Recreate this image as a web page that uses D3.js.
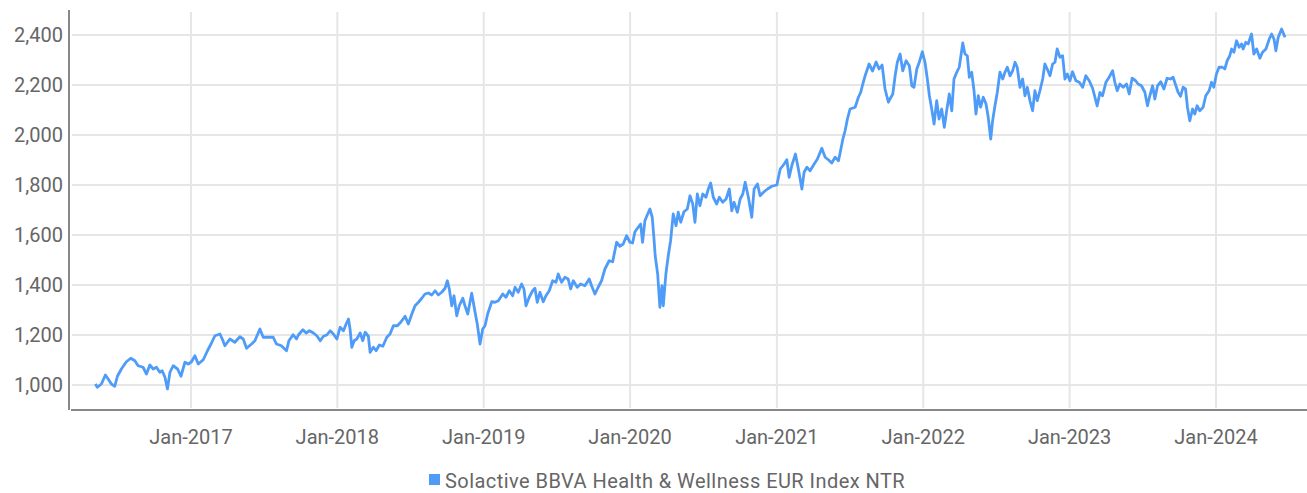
<!DOCTYPE html>
<html>
<head>
<meta charset="utf-8">
<script src="https://cdn.jsdelivr.net/npm/d3@7"></script>
<style>
  html, body { margin: 0; padding: 0; background: #fff; }
  svg text { font-family: Roboto, "Noto Sans", sans-serif; fill: #666; }
</style>
</head>
<body>
<div id="chart"></div>
<script>
// Index level; time given as decimal years
const years = [
  2016.349,2016.362,2016.390,2016.417,2016.436,2016.458,2016.481,2016.499,2016.526,2016.560,
  2016.590,2016.618,2016.640,2016.674,2016.697,2016.720,2016.743,2016.765,2016.788,2016.804,
  2016.823,2016.840,2016.857,2016.879,2016.909,2016.932,2016.959,2016.982,2017.004,2017.027,
  2017.050,2017.084,2017.113,2017.137,2017.164,2017.198,2017.214,2017.232,2017.266,2017.300,
  2017.334,2017.357,2017.380,2017.414,2017.437,2017.471,2017.494,2017.528,2017.562,2017.584,
  2017.618,2017.653,2017.669,2017.698,2017.721,
  2017.734,2017.765,2017.787,2017.810,2017.837,2017.860,2017.883,2017.905,2017.928,2017.951,
  2017.973,2017.997,2018.019,2018.042,2018.060,2018.076,2018.087,2018.099,2018.115,2018.133,
  2018.156,2018.174,2018.190,2018.212,2018.224,2018.246,2018.265,2018.287,2018.311,2018.338,
  2018.360,2018.383,2018.410,2018.433,2018.463,2018.485,2018.509,2018.531,2018.554,2018.577,
  2018.599,2018.622,2018.645,2018.668,2018.690,2018.713,2018.736,2018.752,2018.765,2018.782,
  2018.797,2018.816,2018.833,2018.857,2018.872,2018.891,2018.918,2018.941,2018.956,2018.975,
  2018.993,2019.009,2019.027,2019.055,2019.077,2019.100,
  2019.130,2019.152,2019.175,2019.198,2019.214,2019.236,2019.259,2019.275,2019.289,2019.311,
  2019.334,2019.350,2019.366,2019.384,2019.407,2019.425,2019.448,2019.471,2019.494,2019.509,
  2019.532,2019.555,2019.577,2019.594,2019.612,2019.639,2019.662,2019.691,2019.721,2019.737,
  2019.760,2019.782,2019.805,2019.828,2019.857,2019.881,2019.896,2019.908,2019.930,2019.953,
  2019.976,2019.999,2020.017,2020.033,2020.055,2020.072,2020.085,2020.101,2020.117,2020.135,
  2020.151,2020.163,2020.171,2020.188,2020.203,2020.217,2020.226,2020.244,2020.260,2020.276,
  2020.294,2020.313,2020.328,2020.345,2020.367,2020.390,
  2020.408,2020.427,2020.442,2020.458,2020.476,2020.495,2020.517,2020.533,2020.549,2020.567,
  2020.590,2020.608,2020.631,2020.654,2020.676,2020.693,2020.708,2020.731,2020.750,2020.768,
  2020.784,2020.806,2020.829,2020.845,2020.868,2020.886,2020.909,2020.936,2020.966,2021.000,
  2021.023,2021.050,2021.068,2021.084,2021.102,2021.127,2021.147,2021.171,2021.186,2021.205,
  2021.227,2021.255,2021.277,2021.307,2021.330,2021.352,2021.375,2021.398,2021.421,2021.432,
  2021.451,2021.466,2021.482,2021.500,2021.535,2021.557,2021.573,2021.587,2021.603,
  2021.630,2021.654,2021.678,2021.698,2021.719,2021.739,2021.762,
  2021.773,2021.792,2021.808,2021.823,2021.842,2021.860,2021.883,2021.905,2021.922,2021.937,
  2021.956,2021.973,2021.994,2022.012,2022.028,2022.042,2022.058,2022.074,2022.092,2022.108,
  2022.126,2022.144,2022.160,2022.178,2022.195,2022.210,2022.229,2022.246,2022.270,2022.285,
  2022.301,2022.315,2022.331,2022.347,2022.360,2022.376,2022.392,2022.410,2022.429,2022.444,
  2022.461,2022.474,2022.490,2022.506,2022.524,2022.543,2022.558,2022.574,2022.593,2022.611,
  2022.627,2022.642,2022.661,2022.679,2022.695,2022.711,2022.729,2022.747,2022.763,2022.779,
  2022.797,2022.816,2022.831,2022.847,2022.866,2022.884,2022.900,2022.915,2022.934,2022.952,
  2022.968,2022.984,2023.002,2023.020,2023.043,2023.066,2023.089,2023.111,2023.134,
  2023.157,2023.173,2023.188,2023.207,2023.225,2023.248,2023.270,2023.294,2023.309,2023.325,
  2023.343,2023.366,2023.389,2023.407,2023.427,2023.451,2023.468,2023.491,2023.514,2023.532,
  2023.548,2023.567,2023.582,2023.601,2023.623,2023.644,2023.666,2023.689,2023.707,2023.726,
  2023.741,2023.758,2023.775,2023.792,2023.805,2023.821,2023.840,2023.855,2023.871,2023.889,
  2023.912,2023.930,2023.953,2023.969,2023.985,2024.003,2024.021,2024.044,2024.060,2024.076,
  2024.094,2024.106,2024.122,2024.140,2024.158,2024.174,2024.185,2024.203,2024.219,2024.242,
  2024.258,2024.277,2024.299,2024.317,2024.340,2024.363,2024.379,2024.395,2024.408,2024.424,
  2024.447,2024.458,2024.470
];

const values = [
  1004,991,1004,1040,1024,1004,995,1035,1064,1093,
  1107,1097,1077,1071,1044,1080,1064,1071,1051,1057,
  1031,984,1051,1077,1064,1035,1091,1084,1093,1117,
  1084,1101,1137,1164,1197,1204,1184,1157,1184,1171,
  1193,1184,1147,1164,1177,1224,1191,1191,1191,1164,
  1157,1137,1177,1201,1184,
  1200,1221,1208,1217,1208,1197,1177,1195,1200,1217,
  1204,1184,1231,1217,1244,1264,1224,1151,1177,1184,
  1208,1177,1211,1195,1131,1151,1137,1160,1155,1191,
  1204,1237,1237,1251,1275,1244,1284,1317,1331,1347,
  1364,1368,1360,1377,1360,1371,1387,1417,1384,1317,
  1357,1277,1317,1347,1317,1284,1367,1291,1244,1164,
  1224,1237,1284,1333,1331,1337,
  1364,1351,1377,1357,1391,1371,1404,1384,1317,1351,
  1377,1387,1331,1371,1333,1357,1377,1417,1411,1444,
  1411,1431,1424,1384,1417,1391,1404,1397,1424,1397,
  1364,1391,1417,1464,1497,1493,1537,1571,1555,1564,
  1597,1571,1568,1613,1631,1644,1571,1657,1680,1704,
  1671,1584,1517,1444,1311,1397,1317,1444,1517,1577,
  1684,1637,1691,1651,1693,1704,
  1757,1724,1651,1764,1717,1764,1751,1784,1808,1751,
  1724,1751,1731,1744,1784,1697,1731,1691,1744,1764,
  1811,1751,1671,1784,1804,1757,1771,1784,1795,1800,
  1864,1884,1901,1831,1877,1924,1864,1784,1851,1871,
  1857,1884,1904,1947,1911,1901,1888,1911,1897,1928,
  1984,2017,2064,2104,2111,2151,2171,2204,2237,
  2284,2256,2292,2264,2280,2184,2131,
  2144,2164,2237,2291,2324,2257,2297,2277,2197,2191,
  2264,2291,2333,2291,2224,2157,2104,2044,2137,2064,
  2104,2031,2097,2164,2097,2224,2251,2271,2368,2324,
  2317,2231,2251,2177,2084,2157,2111,2151,2124,2071,
  1984,2057,2117,2171,2251,2224,2251,2271,2237,2257,
  2291,2271,2191,2224,2157,2191,2137,2097,2177,2137,
  2177,2224,2284,2264,2237,2284,2291,2344,2311,2317,
  2224,2244,2217,2253,2217,2211,2191,2237,2217,
  2187,2151,2116,2170,2157,2211,2231,2257,2211,2177,
  2204,2191,2204,2164,2227,2217,2204,2197,2171,2117,
  2157,2197,2144,2197,2213,2184,2227,2224,2231,2197,
  2171,2155,2191,2184,2111,2057,2104,2084,2117,2097,
  2111,2157,2177,2211,2191,2244,2271,2271,2264,2297,
  2317,2344,2331,2377,2351,2364,2344,2371,2364,2404,
  2324,2344,2307,2331,2344,2384,2404,2384,2337,2391,
  2424,2408,2391
];

const yTicks = [1000, 1200, 1400, 1600, 1800, 2000, 2200, 2400];
const xTickYears = [2017, 2018, 2019, 2020, 2021, 2022, 2023, 2024];
const seriesName = "Solactive BBVA Health & Wellness EUR Index NTR";

// decimal year -> Date
function toDate(t) {
  const yr = Math.floor(t);
  const start = new Date(yr, 0, 1), end = new Date(yr + 1, 0, 1);
  return new Date(start.getTime() + (t - yr) * (end - start));
}

const W = 1307, H = 493;
const mLeft = 70, mRight = 1307, mTop = 10, mBottom = 410;

const svg = d3.select("#chart").append("svg")
  .attr("width", W).attr("height", H);

const x = d3.scaleTime()
  .domain([toDate(2016.176), toDate(2024.62)])
  .range([mLeft, mRight]);

const y = d3.scaleLinear()
  .domain([900, 2500])
  .range([mBottom, mTop]);

const data = years.map((t, i) => ({ date: toDate(t), value: values[i] }));

// gridlines
svg.append("g").selectAll("line")
  .data(yTicks)
  .join("line")
  .attr("x1", mLeft + 2).attr("x2", mRight)
  .attr("y1", d => y(d)).attr("y2", d => y(d))
  .attr("stroke", "#e6e6e6").attr("stroke-width", 2);

svg.append("g").selectAll("line")
  .data(xTickYears)
  .join("line")
  .attr("x1", d => x(toDate(d))).attr("x2", d => x(toDate(d)))
  .attr("y1", mTop + 2).attr("y2", mBottom - 2)
  .attr("stroke", "#e6e6e6").attr("stroke-width", 2);

// axis lines
svg.append("line")
  .attr("x1", mLeft - 1).attr("x2", mLeft - 1)
  .attr("y1", mTop).attr("y2", mBottom)
  .attr("stroke", "#888").attr("stroke-width", 2);
svg.append("line")
  .attr("x1", mLeft + 1).attr("x2", mRight)
  .attr("y1", mBottom).attr("y2", mBottom)
  .attr("stroke", "#888").attr("stroke-width", 2);

// y tick labels
svg.append("g").selectAll("text")
  .data(yTicks)
  .join("text")
  .attr("x", 63)
  .attr("y", d => y(d) + 7)
  .attr("text-anchor", "end")
  .attr("font-size", 20)
  .text(d => d3.format(",")(d));

// x tick labels
svg.append("g").selectAll("text")
  .data(xTickYears)
  .join("text")
  .attr("x", d => x(toDate(d)))
  .attr("y", 444)
  .attr("text-anchor", "middle")
  .attr("font-size", 20)
  .text(d => d3.timeFormat("%b-%Y")(toDate(d)));

// series line
const line = d3.line()
  .x(d => x(d.date))
  .y(d => y(d.value));

svg.append("path")
  .datum(data)
  .attr("fill", "none")
  .attr("stroke", "#4f9bf8")
  .attr("stroke-width", 2.8)
  .attr("stroke-linejoin", "round")
  .attr("d", line);

// legend
const legend = svg.append("g").attr("transform", "translate(429,474)");
legend.append("rect")
  .attr("width", 11).attr("height", 11)
  .attr("fill", "#4f9bf8");
legend.append("text")
  .attr("x", 16).attr("y", 14)
  .attr("font-size", 20)
  .attr("letter-spacing", 0.45)
  .text(seriesName);
</script>
</body>
</html>
